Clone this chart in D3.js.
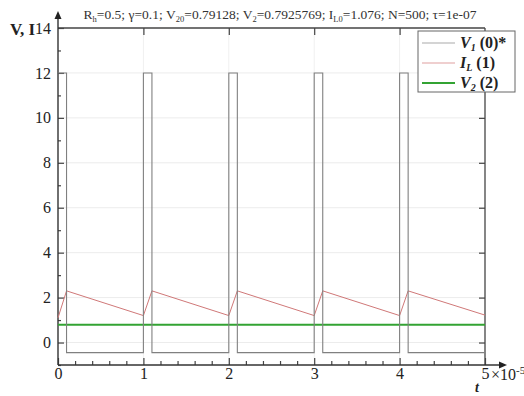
<!DOCTYPE html>
<html><head><meta charset="utf-8">
<script src="https://cdn.jsdelivr.net/npm/d3@7"></script>
<style>body{margin:0;background:#fff}svg{display:block}</style>
</head><body>
<svg id="c" width="524" height="396"></svg>
<script>
// ---- data (t in units of 1e-5) ----
const v1T = [0, 0.1, 0.1, 1.0, 1.0, 1.1, 1.1, 2.0, 2.0, 2.1, 2.1, 3.0, 3.0, 3.1, 3.1, 4.0, 4.0, 4.1, 4.1, 5.0];
const v1V = [12, 12, -0.45, -0.45, 12, 12, -0.45, -0.45, 12, 12, -0.45, -0.45, 12, 12, -0.45, -0.45, 12, 12, -0.45, -0.45];
const iLT = [0, 0.1, 1.0, 1.1, 2.0, 2.1, 3.0, 3.1, 4.0, 4.1, 5.0];
const iLV = [1.1, 2.3, 1.2, 2.3, 1.2, 2.3, 1.2, 2.3, 1.2, 2.3, 1.22];
const v2T = [0, 5.0];
const v2V = [0.7926, 0.7926];
const xTicks = [0, 1, 2, 3, 4, 5];
const xMinor = [0.2,0.4,0.6,0.8,1.2,1.4,1.6,1.8,2.2,2.4,2.6,2.8,3.2,3.4,3.6,3.8,4.2,4.4,4.6,4.8];
const yTicks = [0, 2, 4, 6, 8, 10, 12, 14];
const yMinor = [-1, 1, 3, 5, 7, 9, 11, 13];

const svg = d3.select('#c');
const L = 58, R = 485, T = 28, B = 365;
const x = d3.scaleLinear().domain([0, 5]).range([L, R]);
const y = d3.scaleLinear().domain([-1, 14]).range([B, T]);
const serif = "'Liberation Serif','Times New Roman',serif";

// grid
const g = svg.append('g');
g.selectAll('.gy').data(yTicks.slice(0,-1)).join('line')
  .attr('x1', L).attr('x2', R).attr('y1', d => y(d)).attr('y2', d => y(d))
  .attr('stroke', '#ececec').attr('stroke-width', 1);
g.selectAll('.gx').data(xTicks.slice(1,-1)).join('line')
  .attr('y1', T).attr('y2', B).attr('x1', d => x(d)).attr('x2', d => x(d))
  .attr('stroke', '#f0f0f0').attr('stroke-width', 1);

// frame top/right
svg.append('line').attr('x1', L).attr('x2', R).attr('y1', T).attr('y2', T).attr('stroke', '#444').attr('stroke-width', 1.3);
svg.append('line').attr('x1', R).attr('x2', R).attr('y1', T).attr('y2', B).attr('stroke', '#444').attr('stroke-width', 1.3);

function styleAxis(sel){
  sel.selectAll('.domain').remove();
  sel.selectAll('line').attr('stroke', '#444').attr('stroke-width', 1.2);
  sel.selectAll('text').attr('font-family', serif).attr('font-size', 16).attr('fill', '#222');
}
// y axis major/minor (inside ticks)
svg.append('g').attr('transform', `translate(${L},0)`)
  .call(d3.axisLeft(y).tickValues(yTicks).tickSize(-6).tickPadding(7).tickFormat(d3.format('d')))
  .call(styleAxis);
svg.append('g').attr('transform', `translate(${L},0)`)
  .call(d3.axisLeft(y).tickValues(yMinor).tickSize(-3).tickFormat(''))
  .call(styleAxis);
// right mirrored
svg.append('g').attr('transform', `translate(${R},0)`)
  .call(d3.axisRight(y).tickValues(yTicks.slice(0,-1)).tickSize(-6).tickFormat(''))
  .call(styleAxis);
// x axis
svg.append('g').attr('transform', `translate(0,${B})`)
  .call(d3.axisBottom(x).tickValues(xTicks).tickSize(-7).tickPadding(3).tickFormat(d3.format('d')))
  .call(styleAxis);
svg.append('g').attr('transform', `translate(0,${B})`)
  .call(d3.axisBottom(x).tickValues(xMinor).tickSize(-4).tickFormat(''))
  .call(styleAxis);
svg.append('g').attr('transform', `translate(0,${T})`)
  .call(d3.axisTop(x).tickValues(xTicks.slice(1,-1)).tickSize(-7).tickFormat(''))
  .call(styleAxis);

// axis lines with arrows
svg.append('line').attr('x1', L).attr('x2', L).attr('y1', B).attr('y2', 17).attr('stroke', '#333').attr('stroke-width', 1.4);
svg.append('line').attr('x1', L).attr('x2', 500).attr('y1', B).attr('y2', B).attr('stroke', '#333').attr('stroke-width', 1.4);
svg.append('path').attr('d', `M${L},11 L${L-3.5},19 L${L+3.5},19 Z`).attr('fill', '#222');
svg.append('path').attr('d', `M507,${B} L499,${B-3.5} L499,${B+3.5} Z`).attr('fill', '#222');

// series
const line = d3.line().x(d => x(d[0])).y(d => y(d[1]));
const zip = (a, b) => a.map((t, i) => [t, b[i]]);
svg.append('path').datum(zip(v2T, v2V)).attr('d', line).attr('fill', 'none').attr('stroke', '#33a333').attr('stroke-width', 2);
svg.append('path').datum(zip(iLT, iLV)).attr('d', line).attr('fill', 'none').attr('stroke', '#d07878').attr('stroke-width', 1);
svg.append('path').datum(zip(v1T, v1V)).attr('d', line).attr('fill', 'none').attr('stroke', '#808080').attr('stroke-width', 1.1);

// labels
svg.append('text').attr('x', 10).attr('y', 35).attr('font-family', serif).attr('font-size', 17).attr('font-weight', 'bold').attr('fill', '#222').text('V, I');
const xl = svg.append('text').attr('x', 491).attr('y', 380).attr('font-family', serif).attr('font-size', 16).attr('fill', '#222');
xl.append('tspan').text('×10');
xl.append('tspan').attr('dy', -6).attr('font-size', 11).text('-5');
svg.append('text').attr('x', 477).attr('y', 392).attr('text-anchor', 'middle').attr('font-family', serif).attr('font-size', 14).attr('font-style', 'italic').attr('font-weight', 'bold').attr('fill', '#222').text('t');

// title
const title = svg.append('text').attr('x', 280).attr('y', 19).attr('text-anchor', 'middle').attr('font-family', serif).attr('font-size', 13.5).attr('fill', '#333');
const parts = [['R',''],['h','sub'],['=0.5; γ=0.1; V',''],['20','sub'],['=0.79128; V',''],['2','sub'],['=0.7925769; I',''],['L0','sub'],['=1.076; N=500; τ=1e-07','']];
let prevSub = false;
parts.forEach(([t, s]) => {
  const ts = title.append('tspan').text(t);
  if (s === 'sub') { ts.attr('dy', 3).attr('font-size', 8.5); prevSub = true; }
  else if (prevSub) { ts.attr('dy', -3); prevSub = false; }
});

// legend
const leg = svg.append('g');
leg.append('rect').attr('x', 418).attr('y', 31).attr('width', 97).attr('height', 61).attr('fill', '#fff').attr('stroke', '#666').attr('stroke-width', 1);
const legItems = [['V','1',' (0)*','#aaaaaa',1.2],['I','L',' (1)','#e0a0a0',1.2],['V','2',' (2)','#33a333',2]];
legItems.forEach(([a, sub, rest, col, w], i) => {
  const yy = 43 + i * 20;
  leg.append('line').attr('x1', 422).attr('x2', 455).attr('y1', yy).attr('y2', yy).attr('stroke', col).attr('stroke-width', w);
  const t = leg.append('text').attr('x', 460).attr('y', yy + 5).attr('font-family', serif).attr('font-size', 16).attr('font-weight', 'bold').attr('fill', '#222');
  t.append('tspan').attr('font-style', 'italic').text(a);
  t.append('tspan').attr('font-style', 'italic').attr('font-size', 10).attr('dy', 3).text(sub);
  t.append('tspan').attr('dy', -3).text(rest);
});
</script>
</body></html>
